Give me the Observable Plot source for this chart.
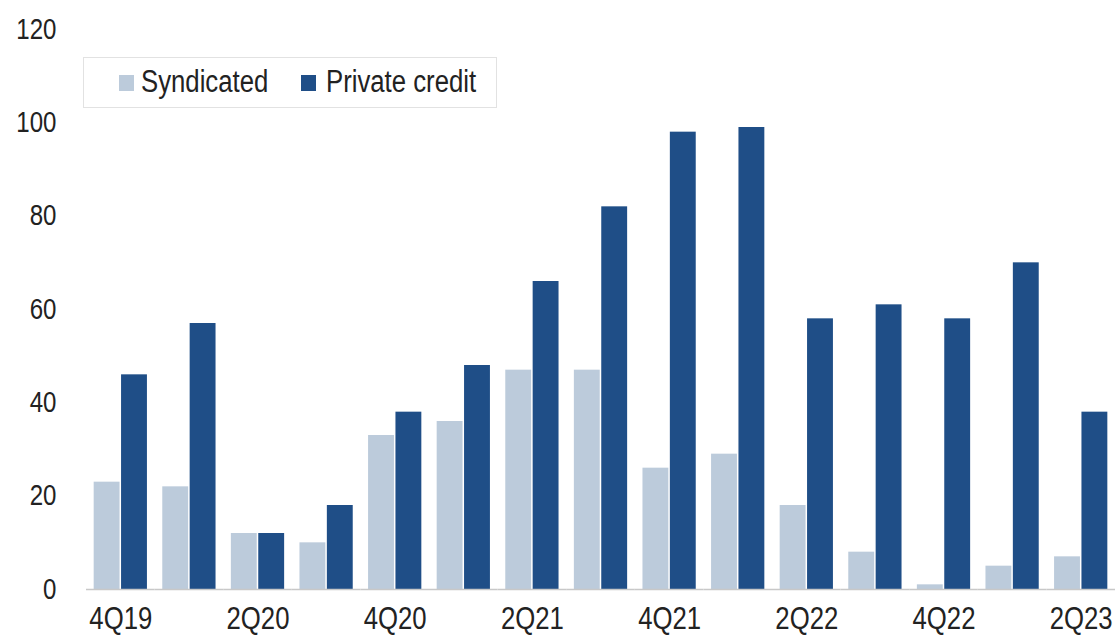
<!DOCTYPE html>
<html>
<head>
<meta charset="utf-8">
<script src="https://cdn.jsdelivr.net/npm/d3@7"></script>
<script src="https://cdn.jsdelivr.net/npm/@observablehq/plot@0.6"></script>
<style>
  html, body { margin: 0; padding: 0; background: #fff; }
  #wrap { position: relative; width: 1117px; height: 636px; font-family: "Liberation Sans", Arial, sans-serif; }
  #legend { position: absolute; left: 83px; top: 57px; width: 414px; height: 51px; border: 1px solid #e2e2e2; box-sizing: border-box;
    font-size: 31px; color: #222; }
  .sw { position: absolute; width: 15px; height: 16px; top: 17px; }
  .lt { position: absolute; top: 6px; white-space: nowrap; transform: scaleX(0.83); transform-origin: left center; line-height: 36px; }
</style>
</head>
<body>
<div id="wrap"><div id="chart"></div>
<div id="legend"></div></div>
<script>
const quarters = ["4Q19","1Q20","2Q20","3Q20","4Q20","1Q21","2Q21","3Q21","4Q21","1Q22","2Q22","3Q22","4Q22","1Q23","2Q23"];
const syndicated = [23, 22, 12, 10, 33, 36, 47, 47, 26, 29, 18, 8, 1, 5, 7];
const privateCredit = [46, 57, 12, 18, 38, 48, 66, 82, 98, 99, 58, 61, 58, 70, 38];
const seriesNames = ["Syndicated", "Private credit"];
const seriesColors = ["#bccbdb", "#1f4e87"];
const yTicks = [0, 20, 40, 60, 80, 100, 120];
const xTickLabels = ["4Q19","2Q20","4Q20","2Q21","4Q21","2Q22","4Q22","2Q23"];

const data = [];
quarters.forEach((q, i) => {
  data.push({quarter: q, series: seriesNames[0], value: syndicated[i]});
  data.push({quarter: q, series: seriesNames[1], value: privateCredit[i]});
});

const chart = Plot.plot({
  width: 1117,
  height: 636,
  marginTop: 29,
  marginBottom: 47,
  marginLeft: 86,
  marginRight: 2,
  style: {fontFamily: "'Liberation Sans', Arial, sans-serif", fontSize: "29px", color: "#222", background: "#fff"},
  fx: {domain: quarters, padding: 0, round: false, label: null, ticks: xTickLabels, tickSize: 0, tickPadding: 17},
  x: {domain: seriesNames, paddingInner: 0.055, paddingOuter: 0.28, round: false, axis: null},
  y: {domain: [0, 120], ticks: yTicks, tickSize: 0, tickPadding: 30, label: null},
  color: {domain: seriesNames, range: seriesColors},
  marks: [
    Plot.barY(data, {fx: "quarter", x: "series", y: "value", fill: "series"}),
    Plot.ruleY([0], {stroke: "#c8c8c8", strokeWidth: 1.5})
  ]
});
document.getElementById("chart").appendChild(chart);

// emulate a narrow (condensed) typeface for the tick labels by scaling each label horizontally about its anchor
chart.querySelectorAll("text").forEach(t => {
  if (/Q/.test(t.textContent)) t.style.fontSize = "31px";
  const b = t.getBBox();
  const anchor = getComputedStyle(t).textAnchor;
  const ax = anchor === "end" ? b.x + b.width : anchor === "middle" ? b.x + b.width / 2 : b.x;
  const prev = t.getAttribute("transform") || "";
  t.setAttribute("transform", `${prev} translate(${ax},0) scale(0.83,1) translate(${-ax},0)`.trim());
});

const legend = document.getElementById("legend");
const legendPos = [[35, 57], [217, 242]];
seriesNames.forEach((s, i) => {
  const sw = document.createElement("span");
  sw.className = "sw";
  sw.style.left = legendPos[i][0] + "px";
  sw.style.background = seriesColors[i];
  legend.appendChild(sw);
  const t = document.createElement("span");
  t.className = "lt";
  t.style.left = legendPos[i][1] + "px";
  t.textContent = s;
  legend.appendChild(t);
});
</script>
</body>
</html>
